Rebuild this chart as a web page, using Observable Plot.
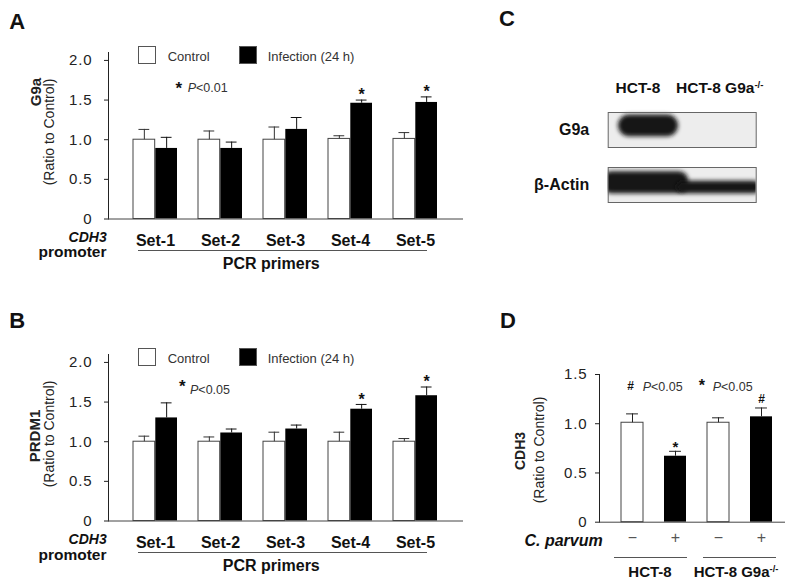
<!DOCTYPE html>
<html>
<head>
<meta charset="utf-8">
<script src="https://cdn.jsdelivr.net/npm/d3@7"></script>
<script src="https://cdn.jsdelivr.net/npm/@observablehq/plot@0.6"></script>
<style>
html,body{margin:0;padding:0;background:#fff;}
#fig{position:relative;width:800px;height:585px;overflow:hidden;background:#fff;font-family:"Liberation Sans",Arial,Helvetica,sans-serif;color:#222;}
#fig .t{position:absolute;white-space:nowrap;line-height:1;}
#fig .ln{position:absolute;height:0;border-top:1.3px solid #555;}
#fig .sq{position:absolute;width:18px;height:18px;box-sizing:border-box;border:1px solid #555;}
</style>
</head>
<body>
<div id="fig"></div>
<script>
const FONT = '"Liberation Sans", Arial, Helvetica, sans-serif';

// ---------- Panels A & B ----------
const sets = ["Set-1", "Set-2", "Set-3", "Set-4", "Set-5"];
const legendLabels = ["Control", "Infection (24 h)"];
const yTicksAB = [0, 0.5, 1.0, 1.5, 2.0];

const g9aControl       = [1.00, 1.00, 1.00, 1.01, 1.01];
const g9aControlErr    = [1.13, 1.11, 1.16, 1.05, 1.09];
const g9aInfection     = [0.89, 0.89, 1.13, 1.46, 1.47];
const g9aInfectionErr  = [1.03, 0.97, 1.28, 1.50, 1.54];
const g9aSig           = [false, false, false, true, true];

const prdm1Control      = [1.00, 1.00, 1.00, 1.00, 1.00];
const prdm1ControlErr   = [1.07, 1.06, 1.12, 1.12, 1.04];
const prdm1Infection    = [1.30, 1.11, 1.16, 1.41, 1.58];
const prdm1InfectionErr = [1.49, 1.16, 1.21, 1.47, 1.69];
const prdm1Sig          = [false, false, false, true, true];

// ---------- Panel C (western blot) ----------
const blotLanes = ["HCT-8", "HCT-8 G9a-/-"];
const blotProteins = ["G9a", "β-Actin"];
const g9aBandTop      = [0.07, null];
const g9aBandBottom   = [0.69, null];
const actinBandTop    = [0.12, 0.39];
const actinBandBottom = [0.75, 0.75];

// ---------- Panel D ----------
const cellLines = ["HCT-8", "HCT-8 G9a-/-"];
const parvum = ["−", "+"];
const cdh3Mean  = [1.01, 0.67, 1.01, 1.07];
const cdh3Err   = [1.10, 0.72, 1.06, 1.16];
const cdh3Marks = ["", "*", "", "#"];
const yTicksD = [0, 0.5, 1.0, 1.5];

// ---------- helpers ----------
const fig = document.getElementById("fig");
const tickFmt = d => d === 0 ? "0" : d.toFixed(1);
const sup = s => s.replace("-/-", '<span style="font-size:0.62em;position:relative;top:-0.55em;">-/-</span>');

function txt(html, x, y, o = {}) {
  const size = o.size || 14;
  const d = document.createElement("div");
  d.className = "t";
  d.innerHTML = html;
  d.style.fontSize = size + "px";
  d.style.fontWeight = o.weight || "normal";
  d.style.fontStyle = o.style || "normal";
  d.style.color = o.color || "#222";
  d.style.left = x + "px";
  if (o.rotate) {
    d.style.top = y + "px";
    d.style.transform = "translate(-50%,-50%) rotate(-90deg)";
  } else {
    d.style.top = (y - 0.847 * size) + "px";
    if (o.anchor === "middle") d.style.transform = "translateX(-50%)";
    else if (o.anchor === "end") d.style.transform = "translateX(-100%)";
  }
  fig.appendChild(d);
}
function hline(x1, x2, y) {
  const d = document.createElement("div");
  d.className = "ln";
  d.style.left = x1 + "px"; d.style.width = (x2 - x1) + "px"; d.style.top = y + "px";
  fig.appendChild(d);
}
function square(x, y, fill) {
  const d = document.createElement("div");
  d.className = "sq";
  d.style.left = x + "px"; d.style.top = y + "px"; d.style.background = fill;
  fig.appendChild(d);
}
function styleYTicks(svg) {
  d3.select(svg).selectAll('g[aria-label="y-axis tick label"] text')
    .attr("font-size", 15).style("font-size", "15px").style("letter-spacing", "0.9px").style("fill", "#222");
}
function place(svg, left, top) {
  svg.style.position = "absolute";
  svg.style.left = left + "px";
  svg.style.top = top + "px";
  fig.appendChild(svg);
}

// ---------- bar panel (A/B) ----------
function barPanel(ctrl, ctrlErr, inf, infErr, sig) {
  const rows = sets.map((s, i) => ({set: s, ctrl: ctrl[i], ctrlErr: ctrlErr[i], inf: inf[i], infErr: infErr[i], sig: sig[i]}));
  const W = 470, H = 280, mL = 108, mR = 7;
  const pi = 0.318, po = 0.373;
  const step = (W - mL - mR) / (sets.length - pi + 2 * po);
  const bw = step * (1 - pi), q = bw / 4, cap = 5.7;
  const chart = Plot.plot({
    width: W, height: H,
    marginLeft: mL, marginRight: mR, marginTop: 52, marginBottom: 61.5,
    style: {fontFamily: FONT, fontSize: "15px", color: "#222", background: "transparent", overflow: "visible"},
    x: {type: "band", domain: sets, paddingInner: pi, paddingOuter: po, axis: null},
    y: {domain: [0, 2.1], ticks: yTicksAB, tickFormat: tickFmt, tickSize: 4, tickPadding: 12, line: true, label: null},
    marks: [
      Plot.barY(rows, {x: "set", y: "ctrl", fill: "white", stroke: "#444", strokeWidth: 1, insetRight: bw / 2}),
      Plot.barY(rows, {x: "set", y: "inf", fill: "black", insetLeft: bw / 2}),
      Plot.ruleX(rows, {x: "set", y1: "ctrl", y2: "ctrlErr", dx: -q, stroke: "#333"}),
      Plot.tickY(rows, {x: "set", y: "ctrlErr", insetLeft: q - cap, insetRight: 3 * q - cap, stroke: "#333"}),
      Plot.ruleX(rows, {x: "set", y1: "inf", y2: "infErr", dx: q, stroke: "#111"}),
      Plot.tickY(rows, {x: "set", y: "infErr", insetLeft: 3 * q - cap, insetRight: q - cap, stroke: "#111"}),
      Plot.ruleY([0], {stroke: "#444"}),
      Plot.text(rows.filter(d => d.sig), {x: "set", y: "infErr", dx: q, dy: -5, text: () => "*", fontSize: 16, fontWeight: "bold", fill: "#111"}),
      Plot.text(rows, {x: "set", y: () => 0, dy: 22, text: "set", fontSize: 16, fontWeight: "bold", fill: "#111"})
    ]
  });
  styleYTicks(chart);
  return chart;
}

// Panel A
place(barPanel(g9aControl, g9aControlErr, g9aInfection, g9aInfectionErr, g9aSig), 0, 0);
// Panel B
const OFF = 302.3;
place(barPanel(prdm1Control, prdm1ControlErr, prdm1Infection, prdm1InfectionErr, prdm1Sig), 0, OFF);

// A/B decorations
[[0, "G9a", 92, "<0.01"], [OFF, "PRDM1", 436 - OFF, "<0.05"]].forEach(([o, title, ty, p], k) => {
  square(138.3, 45.7 + o, "white");
  square(239, 45.7 + o, "black");
  txt(legendLabels[0], 167.7, 61 + o, {size: 13, color: "#333"});
  txt(legendLabels[1], 267.7, 61 + o, {size: 13, color: "#333"});
  txt("*", k ? 179 : 175.5, 94 + o - (k ? 4 : 0), {size: 17, weight: "bold", color: "#111"});
  txt("<i>P</i>" + p.replace("<", "&lt;"), k ? 190 : 187.7, 93 + o - (k ? 1 : 0), {size: 12.5, color: "#333"});
  txt(title, k ? 34 : 35, ty + o, {size: 15, weight: "bold", rotate: true});
  txt("(Ratio to Control)", 49, 131.7 + o, {size: 14, rotate: true});
  txt("CDH3", 106.7, 241.7 + o, {size: 14, weight: "bold", style: "italic", anchor: "end", color: "#111"});
  txt("promoter", 106.5, 257.5 + o, {size: 15.5, weight: "bold", anchor: "end", color: "#111"});
  hline(138.3, 427.3, 249.5 + o);
  txt("PCR primers", 271.3, 269.3 + o, {size: 16, weight: "bold", anchor: "middle", color: "#111"});
});

// ---------- Panel C ----------
const bands = [];
blotLanes.forEach((lane, i) => {
  if (g9aBandTop[i] != null) bands.push({lane, protein: blotProteins[0], top: g9aBandTop[i], bottom: g9aBandBottom[i]});
  if (actinBandTop[i] != null) bands.push({lane, protein: blotProteins[1], top: actinBandTop[i], bottom: actinBandBottom[i]});
});
const blot = Plot.plot({
  width: 240, height: 110,
  marginLeft: 47.7, marginRight: 44.3, marginTop: 11, marginBottom: 7.3,
  style: {fontFamily: FONT, fontSize: "16px", fontWeight: "bold", color: "#111", background: "transparent", overflow: "visible"},
  fy: {domain: blotProteins, paddingInner: 0.358, paddingOuter: 0, axis: "left", tickSize: 0, tickPadding: 19, label: null},
  x: {type: "band", domain: blotLanes, padding: 0, axis: null},
  y: {domain: [0, 1], reverse: true, axis: null},
  marks: [
    Plot.frame({fill: "#ededed", stroke: "none"}),
    Plot.barY(bands.filter(d => d.protein === blotProteins[0]), {x: "lane", fy: "protein", y1: "top", y2: "bottom", fill: "#121212", rx: 11, insetLeft: 10, insetRight: 4}),
    Plot.barY(bands.filter(d => d.protein === blotProteins[1]), {x: "lane", fy: "protein", y1: "top", y2: "bottom", fill: "#121212", rx: 9, insetLeft: -6, insetRight: -6, clip: true}),
    Plot.frame({stroke: "#666", fill: "none"})
  ]
});
{
  const s = d3.select(blot);
  s.append("defs").append("filter").attr("id", "blurC")
    .attr("x", "-30%").attr("y", "-60%").attr("width", "160%").attr("height", "220%")
    .append("feGaussianBlur").attr("stdDeviation", 2.2);
  s.selectAll('g[aria-label="bar"] rect').attr("filter", "url(#blurC)");
}
place(blot, 560, 100);
txt(sup(blotLanes[0]), 638, 93.3, {size: 15.5, weight: "bold", anchor: "middle", color: "#111"});
txt(sup(blotLanes[1]), 676, 93.3, {size: 15.5, weight: "bold", color: "#111"});

// ---------- Panel D ----------
const dRows = [];
cellLines.forEach((c, i) => parvum.forEach((p, j) => {
  const k = i * 2 + j;
  dRows.push({key: c + "|" + p, line: c, trt: p, mean: cdh3Mean[k], err: cdh3Err[k], mark: cdh3Marks[k]});
}));
const dKeys = dRows.map(d => d.key);
{
  const W = 320, mL = 119, mR = 15, pi = 0.485, po = 0.39;
  const step = (W - mL - mR) / (dKeys.length - pi + 2 * po);
  const bw = step * (1 - pi), cap = 6.1;
  const chartD = Plot.plot({
    width: W, height: 200,
    marginLeft: mL, marginRight: mR, marginTop: 24, marginBottom: 28.3,
    style: {fontFamily: FONT, fontSize: "15px", color: "#222", background: "transparent", overflow: "visible"},
    x: {type: "band", domain: dKeys, paddingInner: pi, paddingOuter: po, align: 0.62, axis: null},
    y: {domain: [0, 1.5], ticks: yTicksD, tickFormat: tickFmt, tickSize: 4, tickPadding: 8, line: true, label: null},
    marks: [
      Plot.barY(dRows.filter(d => d.trt === parvum[0]), {x: "key", y: "mean", fill: "white", stroke: "#444"}),
      Plot.barY(dRows.filter(d => d.trt === parvum[1]), {x: "key", y: "mean", fill: "black"}),
      Plot.ruleX(dRows, {x: "key", y1: "mean", y2: "err", stroke: "#222"}),
      Plot.tickY(dRows, {x: "key", y: "err", insetLeft: bw / 2 - cap, insetRight: bw / 2 - cap, stroke: "#222"}),
      Plot.ruleY([0], {stroke: "#444"}),
      Plot.text(dRows.filter(d => d.mark === "*"), {x: "key", y: "err", dy: -4.5, text: "mark", fontSize: 15, fontWeight: "bold", fill: "#111"}),
      Plot.text(dRows.filter(d => d.mark === "#"), {x: "key", y: "err", dy: -8.5, text: "mark", fontSize: 12, fontWeight: "bold", fill: "#111"}),
      Plot.text(dRows, {x: "key", y: () => 0, dy: 16, text: "trt", fontSize: 16, fill: "#555"})
    ]
  });
  styleYTicks(chartD);
  place(chartD, 480, 350);
}
txt("#", 627.3, 390.5, {size: 12, weight: "bold", color: "#111"});
txt("<i>P</i>&lt;0.05", 642.7, 392, {size: 12.5, color: "#333"});
txt("*", 698.8, 392, {size: 16, weight: "bold", color: "#111"});
txt("<i>P</i>&lt;0.05", 712.7, 392, {size: 12.5, color: "#333"});
txt("CDH3", 520, 451, {size: 14, weight: "bold", rotate: true});
txt("(Ratio to Control)", 538.5, 450, {size: 14, rotate: true});
txt("<i>C. parvum</i>", 602.7, 546.7, {size: 16, weight: "bold", anchor: "end", color: "#111"});
hline(614, 686.7, 557.2);
hline(702.7, 775.7, 557.2);
txt(sup(cellLines[0]), 650, 576.5, {size: 15, weight: "bold", anchor: "middle", color: "#111"});
txt(sup(cellLines[1]), 736, 576.5, {size: 15, weight: "bold", anchor: "middle", color: "#111"});

// ---------- panel letters ----------
txt("A", 9.3, 29.3, {size: 22, weight: "bold", color: "#111"});
txt("B", 9.3, 328.3, {size: 22, weight: "bold", color: "#111"});
txt("C", 499, 26.7, {size: 22, weight: "bold", color: "#111"});
txt("D", 500, 328.3, {size: 22, weight: "bold", color: "#111"});
</script>
</body>
</html>
